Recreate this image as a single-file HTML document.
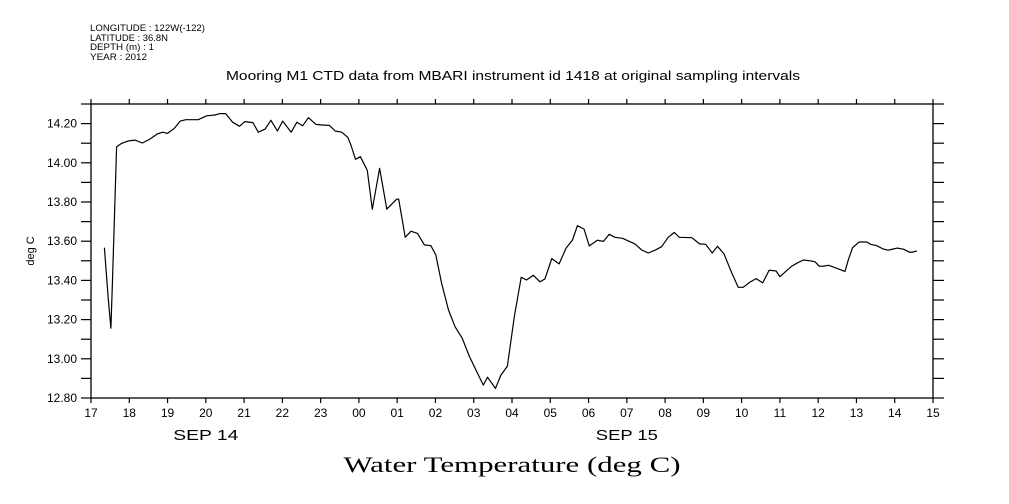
<!DOCTYPE html>
<html><head><meta charset="utf-8"><title>Water Temperature</title>
<style>
html,body{margin:0;padding:0;background:#fff;}
svg{display:block;}
text{font-family:"Liberation Sans",sans-serif;fill:#000;}
</style></head>
<body>
<svg id="chart" width="1009" height="504" viewBox="0 0 1009 504" xmlns="http://www.w3.org/2000/svg">
  <rect width="1009" height="504" fill="#fff"/>
  <g font-size="9">
    <text x="90" y="31" textLength="115" lengthAdjust="spacingAndGlyphs">LONGITUDE : 122W(-122)</text>
    <text x="90" y="41" textLength="78" lengthAdjust="spacingAndGlyphs">LATITUDE : 36.8N</text>
    <text x="90" y="50" textLength="64" lengthAdjust="spacingAndGlyphs">DEPTH (m) : 1</text>
    <text x="90" y="60" textLength="57" lengthAdjust="spacingAndGlyphs">YEAR : 2012</text>
  </g>
  <text x="226" y="80" textLength="574" lengthAdjust="spacingAndGlyphs" font-size="13">Mooring M1 CTD data from MBARI instrument id 1418 at original sampling intervals</text>
  <text x="0" y="0" transform="translate(34,251) rotate(-90)" text-anchor="middle" font-size="11">deg C</text>
  <text x="512" y="472" text-anchor="middle" font-size="22" textLength="337" lengthAdjust="spacingAndGlyphs" style="font-family:'Liberation Serif',serif">Water Temperature (deg C)</text>
  <g id="axes"></g>
  <g id="series"></g>
</svg>
<script>
// Data: hours since 17:00 Sep 14, and temperature in deg C
const hoursSinceStart = [0.35,0.45,0.52,0.56,0.61,0.67,0.80,0.97,1.15,1.34,1.54,1.73,1.87,2.00,2.18,2.33,2.48,2.80,3.02,3.24,3.37,3.52,3.70,3.88,4.02,4.23,4.37,4.55,4.70,4.87,5.01,5.23,5.38,5.53,5.68,5.88,6.03,6.23,6.38,6.55,6.71,6.79,6.91,7.04,7.22,7.35,7.54,7.73,7.99,8.04,8.21,8.36,8.53,8.71,8.88,9.01,9.16,9.34,9.51,9.70,9.89,10.08,10.25,10.36,10.57,10.71,10.88,11.06,11.24,11.38,11.56,11.73,11.86,12.04,12.23,12.41,12.58,12.71,12.88,13.02,13.23,13.39,13.54,13.69,13.89,14.21,14.39,14.56,14.74,14.91,15.08,15.24,15.37,15.70,15.90,16.06,16.23,16.37,16.54,16.74,16.91,17.04,17.22,17.38,17.55,17.72,17.90,18.00,18.31,18.44,18.61,18.79,18.92,19.03,19.14,19.27,19.40,19.57,19.70,19.79,19.90,20.07,20.27,20.37,20.53,20.70,20.83,20.96,21.07,21.23,21.40,21.47,21.58];
const temperatures = [13.567,13.309,13.156,13.385,13.700,14.082,14.099,14.111,14.116,14.101,14.121,14.147,14.156,14.150,14.176,14.213,14.220,14.220,14.240,14.244,14.251,14.251,14.207,14.186,14.210,14.205,14.156,14.172,14.217,14.162,14.213,14.156,14.207,14.189,14.230,14.196,14.193,14.191,14.162,14.156,14.130,14.091,14.018,14.031,13.961,13.763,13.972,13.764,13.815,13.815,13.620,13.651,13.640,13.581,13.577,13.530,13.385,13.249,13.164,13.105,13.011,12.934,12.866,12.906,12.849,12.917,12.963,13.215,13.416,13.402,13.426,13.393,13.407,13.511,13.484,13.564,13.606,13.679,13.662,13.576,13.605,13.599,13.635,13.620,13.615,13.586,13.555,13.540,13.554,13.572,13.620,13.645,13.620,13.618,13.586,13.584,13.540,13.574,13.535,13.439,13.365,13.365,13.392,13.409,13.387,13.452,13.448,13.419,13.473,13.487,13.504,13.500,13.495,13.472,13.473,13.477,13.468,13.455,13.446,13.506,13.567,13.596,13.596,13.584,13.577,13.560,13.554,13.560,13.565,13.559,13.543,13.545,13.550];
const xTickLabels = ["17","18","19","20","21","22","23","00","01","02","03","04","05","06","07","08","09","10","11","12","13","14","15"];
const yTickLabels = ["12.80","13.00","13.20","13.40","13.60","13.80","14.00","14.20"];
const yMinorTicks = [12.8,12.9,13.0,13.1,13.2,13.3,13.4,13.5,13.6,13.7,13.8,13.9,14.0,14.1,14.2,14.3];
const dateLabels = ["SEP 14","SEP 15"];
const dateLabelHours = [3,14];

const L=91, R=933, T=104, B=398;
const X0=0, X1=22, Y0=12.8, Y1=14.3;
function xs(h){return L+(h-X0)/(X1-X0)*(R-L);}
function ys(v){return B-(v-Y0)/(Y1-Y0)*(B-T);}

const NS="http://www.w3.org/2000/svg";
const axes=document.getElementById('axes');
const series=document.getElementById('series');
function mk(tag,attrs,parent){const e=document.createElementNS(NS,tag);for(const k in attrs)e.setAttribute(k,attrs[k]);parent.appendChild(e);return e;}

const frame=mk('rect',{x:L,y:T,width:R-L,height:B-T,fill:'none',stroke:'#000','stroke-width':1.3},axes);



xTickLabels.forEach((lab,i)=>{
  const x=xs(i);
  const tb=mk('line',{x1:x,x2:x,y1:B,y2:B+5,stroke:'#000','stroke-width':1.2},axes);
  
  
  const tt=mk('line',{x1:x,x2:x,y1:T,y2:T-5,stroke:'#000','stroke-width':1.2},axes);
  
  
  const t=mk('text',{x:x,y:B+19,'text-anchor':'middle','font-size':12},axes);
  t.textContent=lab;
  
  
});
dateLabels.forEach((lab,i)=>{
  const t=mk('text',{x:xs(dateLabelHours[i]),y:440,'text-anchor':'middle','font-size':15,textLength:i===0?65:62,lengthAdjust:'spacingAndGlyphs'},axes);
  t.textContent=lab;
  
  
});
yMinorTicks.forEach(v=>{
  const y=ys(v);
  const tl=mk('line',{x1:L-10,x2:L,y1:y,y2:y,stroke:'#000','stroke-width':1.2},axes);
  
  
  const tr=mk('line',{x1:R,x2:R+11,y1:y,y2:y,stroke:'#000','stroke-width':1.2},axes);
  
  
});
yTickLabels.forEach(lab=>{
  const t=mk('text',{x:77,y:ys(parseFloat(lab))+4,'text-anchor':'end','font-size':12},axes);
  t.textContent=lab;
  
  
});

const pts=hoursSinceStart.map((h,i)=>xs(h).toFixed(1)+','+ys(temperatures[i]).toFixed(1)).join(' ');
const line=mk('polyline',{points:pts,fill:'none',stroke:'#000','stroke-width':1.2,'stroke-linejoin':'round'},series);


</script>
</body></html>
